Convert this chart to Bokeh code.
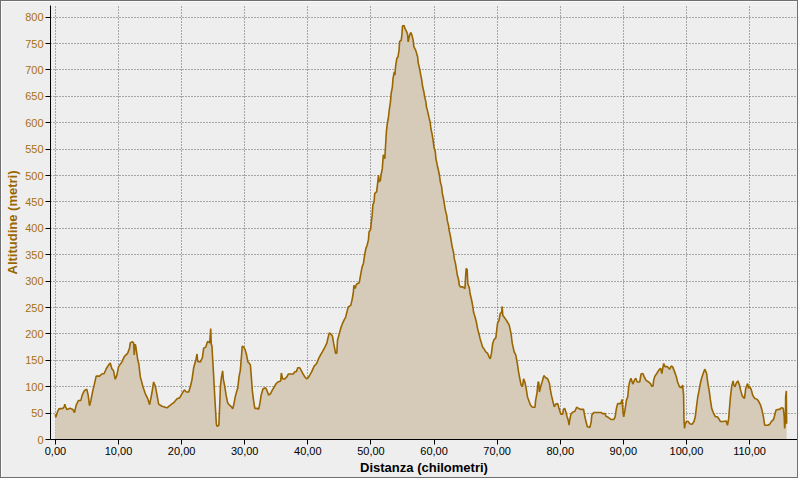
from bokeh.plotting import figure
from bokeh.models import FixedTicker, Range1d
from bokeh.embed import file_html
from bokeh.resources import INLINE

distance_km = [
    0.00, 0.06, 0.32, 0.54, 1.17, 1.40, 1.49, 1.60, 1.80, 2.33, 2.76, 3.02, 3.29, 3.66, 4.03, 4.24,
    4.61, 4.98, 5.19, 5.40, 5.61, 5.93, 6.14, 6.46, 6.99, 7.36, 7.73, 8.05, 8.42, 8.68, 8.95, 9.21,
    9.48, 9.74, 10.01, 10.54, 10.91, 11.43, 11.75, 11.86, 12.20, 12.39, 12.49, 12.60, 12.70, 13.02,
    13.23, 13.45, 13.87, 14.24, 14.61, 14.93, 15.30, 15.56, 15.83, 16.09, 16.36, 16.89, 17.41, 17.68,
    18.21, 18.84, 19.27, 19.69, 20.06, 20.43, 20.75, 21.12, 21.38, 21.65, 21.91, 22.28, 22.44, 22.55,
    22.97, 23.29, 23.50, 23.82, 24.13, 24.45, 24.61, 24.70, 24.80, 25.10, 25.25, 25.50, 25.60, 25.90,
    26.00, 26.15, 26.30, 26.50, 26.60, 26.80, 27.05, 27.30, 27.60, 27.90, 28.10, 28.30, 28.50, 28.70,
    28.90, 29.10, 29.30, 29.50, 29.60, 29.85, 30.06, 30.30, 30.50, 30.75, 30.90, 31.07, 31.20, 31.40,
    31.60, 32.00, 32.20, 32.40, 32.60, 32.90, 33.30, 33.55, 33.80, 34.10, 34.35, 34.60, 35.00, 35.25,
    35.70, 35.80, 36.00, 36.30, 36.70, 36.90, 37.70, 37.90, 38.20, 38.40, 38.70, 38.95, 39.20, 39.50,
    39.80, 40.06, 40.30, 40.60, 41.00, 41.40, 41.70, 42.00, 42.30, 42.70, 43.00, 43.20, 43.40, 43.70,
    43.90, 44.10, 44.40, 44.60, 44.70, 45.00, 45.20, 45.50, 45.70, 46.00, 46.25, 46.40, 46.80, 47.00,
    47.20, 47.30, 47.50, 47.70, 48.15, 48.40, 48.60, 48.80, 49.00, 49.20, 49.40, 49.60, 49.70, 49.95,
    50.06, 50.20, 50.30, 50.50, 50.60, 50.90, 51.06, 51.20, 51.30, 51.50, 51.60, 51.80, 51.96, 52.20,
    52.30, 52.45, 52.60, 52.75, 52.90, 53.10, 53.20, 53.40, 53.50, 53.70, 53.80, 53.90, 54.10, 54.30,
    54.45, 54.55, 54.80, 54.90, 55.00, 55.25, 55.40, 55.60, 55.80, 55.90, 56.10, 56.30, 56.50, 56.70,
    56.80, 57.10, 57.40, 57.50, 57.70, 57.90, 58.05, 58.20, 58.40, 58.50, 58.70, 58.80, 59.00, 59.20,
    59.40, 59.50, 59.70, 59.85, 60.00, 60.20, 60.30, 60.50, 60.70, 60.85, 61.00, 61.20, 61.30, 61.50,
    61.65, 61.80, 62.00, 62.10, 62.30, 62.40, 62.60, 62.75, 62.90, 63.10, 63.20, 63.40, 63.55, 63.70,
    63.90, 64.00, 64.20, 64.55, 64.90, 65.00, 65.10, 65.25, 65.35, 65.60, 65.70, 65.90, 66.05, 66.20,
    66.25, 66.50, 66.70, 66.90, 67.10, 67.30, 67.50, 67.70, 67.90, 68.20, 68.50, 68.70, 68.90, 69.10,
    69.30, 69.50, 69.80, 70.06, 70.30, 70.50, 70.70, 70.80, 70.90, 71.10, 71.40, 71.60, 71.90, 72.20,
    72.40, 72.70, 72.96, 73.20, 73.40, 73.60, 73.80, 74.00, 74.20, 74.40, 74.60, 74.80, 75.10, 75.30,
    75.60, 76.00, 76.10, 76.30, 76.50, 76.60, 76.70, 76.90, 77.20, 77.40, 77.70, 78.00, 78.30, 78.40,
    78.60, 78.80, 79.05, 79.30, 79.60, 79.80, 80.10, 80.40, 80.50, 80.70, 80.90, 81.06, 81.30, 81.40,
    81.50, 81.70, 82.00, 82.30, 82.60, 82.90, 83.20, 83.70, 83.90, 84.10, 84.30, 84.70, 84.90, 85.00,
    85.30, 86.50, 86.70, 87.10, 87.25, 87.60, 88.04, 88.50, 88.70, 88.90, 89.10, 89.60, 89.80, 89.95,
    90.06, 90.30, 90.50, 90.70, 90.85, 91.00, 91.20, 91.40, 91.50, 91.75, 91.96, 92.20, 92.60, 92.80,
    93.10, 93.30, 93.60, 94.00, 94.30, 94.50, 94.70, 94.80, 95.00, 95.30, 95.60, 95.90, 96.10, 96.25,
    96.40, 96.60, 97.00, 97.30, 97.60, 97.80, 98.10, 98.40, 98.60, 98.90, 99.20, 99.40, 99.55, 99.60,
    99.70, 99.80, 100.00, 100.30, 100.50, 100.90, 101.20, 101.40, 101.60, 101.80, 102.00, 102.20,
    102.40, 102.65, 102.90, 103.00, 103.20, 103.40, 103.60, 103.80, 104.00, 104.25, 104.60, 104.90,
    105.10, 105.40, 105.80, 106.30, 106.50, 106.70, 106.80, 107.00, 107.20, 107.40, 107.50, 107.70,
    107.90, 108.15, 108.40, 108.60, 108.80, 109.00, 109.20, 109.40, 109.60, 109.70, 109.85, 110.06,
    110.30, 110.50, 110.80, 111.20, 111.40, 111.75, 111.96, 112.20, 112.40, 112.90, 113.20, 113.45,
    113.80, 113.98, 114.20, 114.50, 114.80, 115.03, 115.35, 115.50, 115.56, 115.70, 115.72, 115.83,
    115.88,
]

altitude_m = [
    48, 42, 52, 58, 59, 62, 67, 62, 57, 59, 57, 51, 65, 74, 74, 84,
    93, 95, 84, 64, 73, 93, 103, 120, 120, 124, 125, 134, 141, 145, 134, 130,
    114, 122, 138, 147, 157, 163, 173, 183, 185, 183, 160, 180, 179, 153,
    142, 119, 100, 87, 78, 66, 89, 109, 101, 85, 67, 63, 61, 60,
    65, 71, 77, 79, 87, 94, 90, 90, 100, 114, 136, 152, 162, 148,
    147, 155, 173, 175, 186, 183, 210, 180, 178, 115, 81, 30, 25, 27,
    55, 101, 117, 130, 115, 103, 84, 69, 65, 62, 58, 68, 81, 90,
    98, 119, 131, 160, 177, 175, 170, 160, 147, 144, 141, 115, 93, 74,
    59, 59, 57, 68, 84, 96, 98, 92, 84, 87, 93, 98, 106, 109,
    111, 126, 115, 114, 119, 124, 124, 128, 129, 136, 136, 131, 125, 119,
    115, 117, 122, 128, 139, 144, 153, 160, 166, 175, 182, 193, 202, 199,
    196, 182, 163, 164, 188, 201, 210, 220, 225, 232, 244, 251, 254, 264,
    277, 292, 286, 294, 297, 314, 327, 333, 349, 362, 368, 378, 393, 398,
    412, 425, 444, 450, 466, 469, 485, 501, 488, 491, 501, 513, 539, 532,
    553, 583, 599, 608, 624, 640, 655, 668, 684, 696, 690, 706, 722, 725,
    737, 754, 756, 766, 783, 784, 778, 774, 768, 753, 764, 771, 766, 756,
    744, 737, 725, 713, 703, 690, 681, 668, 658, 650, 640, 630, 621, 610,
    600, 589, 578, 567, 553, 545, 532, 520, 510, 501, 488, 479, 467, 456,
    445, 434, 425, 415, 405, 396, 385, 374, 364, 354, 343, 333, 322, 311,
    302, 292, 289, 289, 286, 308, 324, 322, 295, 287, 277, 267, 258, 248,
    242, 232, 223, 210, 201, 191, 183, 175, 172, 166, 163, 157, 153, 163,
    182, 189, 193, 220, 226, 239, 240, 252, 235, 232, 227, 223, 217, 201,
    182, 166, 160, 144, 128, 115, 103, 100, 115, 109, 97, 81, 71, 65,
    61, 61, 74, 87, 109, 108, 90, 100, 112, 121, 117, 115, 106, 97,
    84, 74, 62, 67, 68, 59, 48, 48, 57, 59, 52, 44, 35, 27,
    37, 48, 52, 53, 61, 59, 57, 57, 43, 33, 24, 23, 33, 46,
    51, 51, 49, 49, 44, 42, 38, 38, 43, 59, 68, 68, 76, 52,
    43, 59, 75, 81, 100, 109, 116, 109, 105, 112, 116, 109, 109, 124,
    125, 119, 112, 109, 106, 101, 101, 112, 120, 125, 131, 135, 125, 135,
    144, 138, 138, 133, 139, 138, 129, 119, 109, 100, 98, 103, 84, 40,
    21, 29, 34, 34, 30, 29, 34, 43, 63, 81, 93, 106,
    116, 125, 133, 131, 125, 106, 93, 75, 59, 51, 43, 43,
    40, 34, 34, 35, 27, 40, 56, 84, 103, 111, 103, 100,
    107, 111, 103, 93, 84, 80, 78, 97, 103, 106, 97, 100,
    93, 84, 78, 76, 73, 65, 56, 43, 27, 27, 29, 34,
    38, 46, 56, 57, 57, 60, 59, 43, 21, 37, 81, 92,
    30,
]

x_ticks = [0, 10, 20, 30, 40, 50, 60, 70, 80, 90, 100, 110]
x_tick_labels = ["0,00", "10,00", "20,00", "30,00", "40,00", "50,00",
                 "60,00", "70,00", "80,00", "90,00", "100,00", "110,00"]
y_ticks = [0, 50, 100, 150, 200, 250, 300, 350, 400, 450, 500, 550, 600, 650, 700, 750, 800]

BG = "#eeeeee"
FILL = "#d6cab8"
LINE = "#996600"
YCOL = "#a8700c"
FONT = "Liberation Sans"

p = figure(width=798, height=478, output_backend="svg", toolbar_location=None,
           x_range=Range1d(-0.78, 117.6), y_range=Range1d(0, 822))
p.styles = {"border": "1px solid #707070"}
p.background_fill_color = BG
p.border_fill_color = BG
p.outline_line_color = None
p.min_border_top = 4
p.min_border_right = 2
p.min_border_left = 49
p.min_border_bottom = 40

p.varea(x=distance_km, y1=[0] * len(altitude_m), y2=altitude_m, fill_color=FILL)
p.line(x=distance_km, y=altitude_m, line_color=LINE, line_width=1.6)

# axes
p.xaxis.ticker = FixedTicker(ticks=x_ticks)
p.xaxis.major_label_overrides = {t: l for t, l in zip(x_ticks, x_tick_labels)}
p.yaxis.ticker = FixedTicker(ticks=y_ticks)
for ax in (p.xaxis[0], p.yaxis[0]):
    ax.axis_line_color = "black"
    ax.axis_line_width = 1
    ax.major_tick_line_color = "black"
    ax.major_tick_out = 5
    ax.major_tick_in = 0
    ax.minor_tick_line_color = None
    ax.major_label_text_font = FONT
    ax.major_label_text_font_size = "11px"
    ax.axis_label_text_font = FONT
    ax.axis_label_text_font_size = "13px"
    ax.axis_label_text_font_style = "bold"
    ax.major_label_standoff = 2
    ax.axis_label_standoff = 2

p.xaxis.axis_label = "Distanza (chilometri)"
p.xaxis.axis_label_text_color = "black"
p.xaxis.major_label_text_color = "black"
p.yaxis.axis_label = "Altitudine (metri)"
p.yaxis.axis_label_text_color = LINE
p.yaxis.major_label_text_color = YCOL

p.xgrid.ticker = FixedTicker(ticks=x_ticks)
p.ygrid.ticker = FixedTicker(ticks=y_ticks)
for g in (p.xgrid[0], p.ygrid[0]):
    g.grid_line_color = "#606060"
    g.grid_line_dash = "1 2"
    g.grid_line_width = 1

open("out.html", "w").write(file_html(p, INLINE))
